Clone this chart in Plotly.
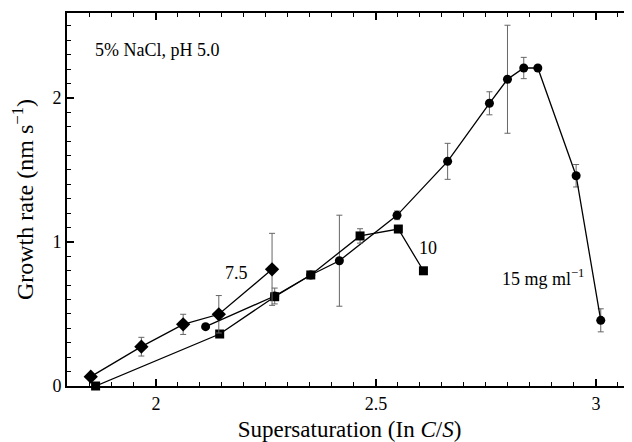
import plotly.graph_objects as go

# 7.5 mg/ml (diamonds)
d_x = [1.852, 1.967, 2.062, 2.143, 2.264]
d_y = [0.065, 0.273, 0.428, 0.498, 0.81]
d_err = [0.0, 0.065, 0.07, 0.13, 0.25]

# 10 mg/ml (squares)
s_x = [1.863, 2.145, 2.27, 2.352, 2.464, 2.551, 2.608]
s_y = [0.0, 0.361, 0.62, 0.771, 1.042, 1.09, 0.80]
s_err = [0.0, 0.0, 0.0, 0.0, 0.05, 0.0, 0.0]

# 15 mg/ml (circles)
c_x = [2.113, 2.27, 2.352, 2.417, 2.548, 2.663, 2.758, 2.799, 2.836, 2.868, 2.955, 3.011]
c_y = [0.412, 0.625, 0.771, 0.87, 1.185, 1.56, 1.963, 2.13, 2.208, 2.208, 1.46, 0.456]
c_err = [0.0, 0.055, 0.0, 0.316, 0.03, 0.125, 0.08, 0.375, 0.074, 0.0, 0.078, 0.08]

x_ticks = [2, 2.5, 3]
x_ticklabels = ["2", "2.5", "3"]
y_ticks = [0, 1, 2]
y_ticklabels = ["0", "1", "2"]

FONT = "Liberation Serif, 'Times New Roman', Times, serif"
ERR = dict(type="data", visible=True, color="#666666", thickness=1, width=3)

fig = go.Figure()

def add(x, y, err, symbol, size):
    fig.add_trace(go.Scatter(
        x=x, y=y, mode="lines+markers",
        line=dict(color="black", width=1.3),
        marker=dict(symbol=symbol, size=size, color="black"),
        error_y=dict(array=err, **ERR),
        showlegend=False, cliponaxis=False,
    ))

add(c_x, c_y, c_err, "circle", 9)
add(s_x, s_y, s_err, "square", 9)
add(d_x, d_y, d_err, "diamond", 11)

ann_font = dict(family=FONT, size=18, color="black")
fig.add_annotation(x=1.857, y=2.333, text="5% NaCl, pH 5.0", showarrow=False,
                   xanchor="left", yanchor="middle", font=ann_font)
fig.add_annotation(x=2.183, y=0.785, text="7.5", showarrow=False,
                   xanchor="center", yanchor="middle", font=ann_font)
fig.add_annotation(x=2.619, y=0.956, text="10", showarrow=False,
                   xanchor="center", yanchor="middle", font=ann_font)
fig.add_annotation(x=2.88, y=0.75, text="15 mg ml<sup>−1</sup>", showarrow=False,
                   xanchor="center", yanchor="middle", font=ann_font)

# page body has an 8px default margin, so the figure is 8px smaller than the window
fig.update_layout(
    width=624, height=434,
    margin=dict(l=59, r=0, t=5, b=56, autoexpand=False),
    paper_bgcolor="white", plot_bgcolor="white",
    font=dict(family=FONT, size=18, color="black"),
)
fig.update_xaxes(
    automargin=False,
    range=[1.798, 3.082], tickvals=x_ticks, ticktext=x_ticklabels,
    ticks="inside", ticklen=7, tickwidth=1.5, tickcolor="black",
    minor=dict(dtick=0.05, tick0=0, ticks="inside", ticklen=4, tickwidth=1.2, tickcolor="black"),
    showline=True, linewidth=2, linecolor="black", mirror="ticks",
    showgrid=False, zeroline=False,
    title=dict(text="Supersaturation (In <i>C</i>/<i>S</i>)", font=dict(family=FONT, size=23), standoff=8),
    tickfont=dict(family=FONT, size=18),
)
fig.update_yaxes(
    automargin=False,
    range=[0, 2.59], tickvals=y_ticks, ticktext=y_ticklabels,
    ticks="inside", ticklen=7, tickwidth=1.5, tickcolor="black",
    minor=dict(dtick=0.1, tick0=0, ticks="inside", ticklen=4, tickwidth=1.2, tickcolor="black"),
    showline=True, linewidth=2, linecolor="black", mirror=False,
    showgrid=False, zeroline=False,
    title=dict(text="Growth rate (nm s<sup>−1</sup>)", font=dict(family=FONT, size=24), standoff=16),
    tickfont=dict(family=FONT, size=18),
)

fig.write_html("out.html")
